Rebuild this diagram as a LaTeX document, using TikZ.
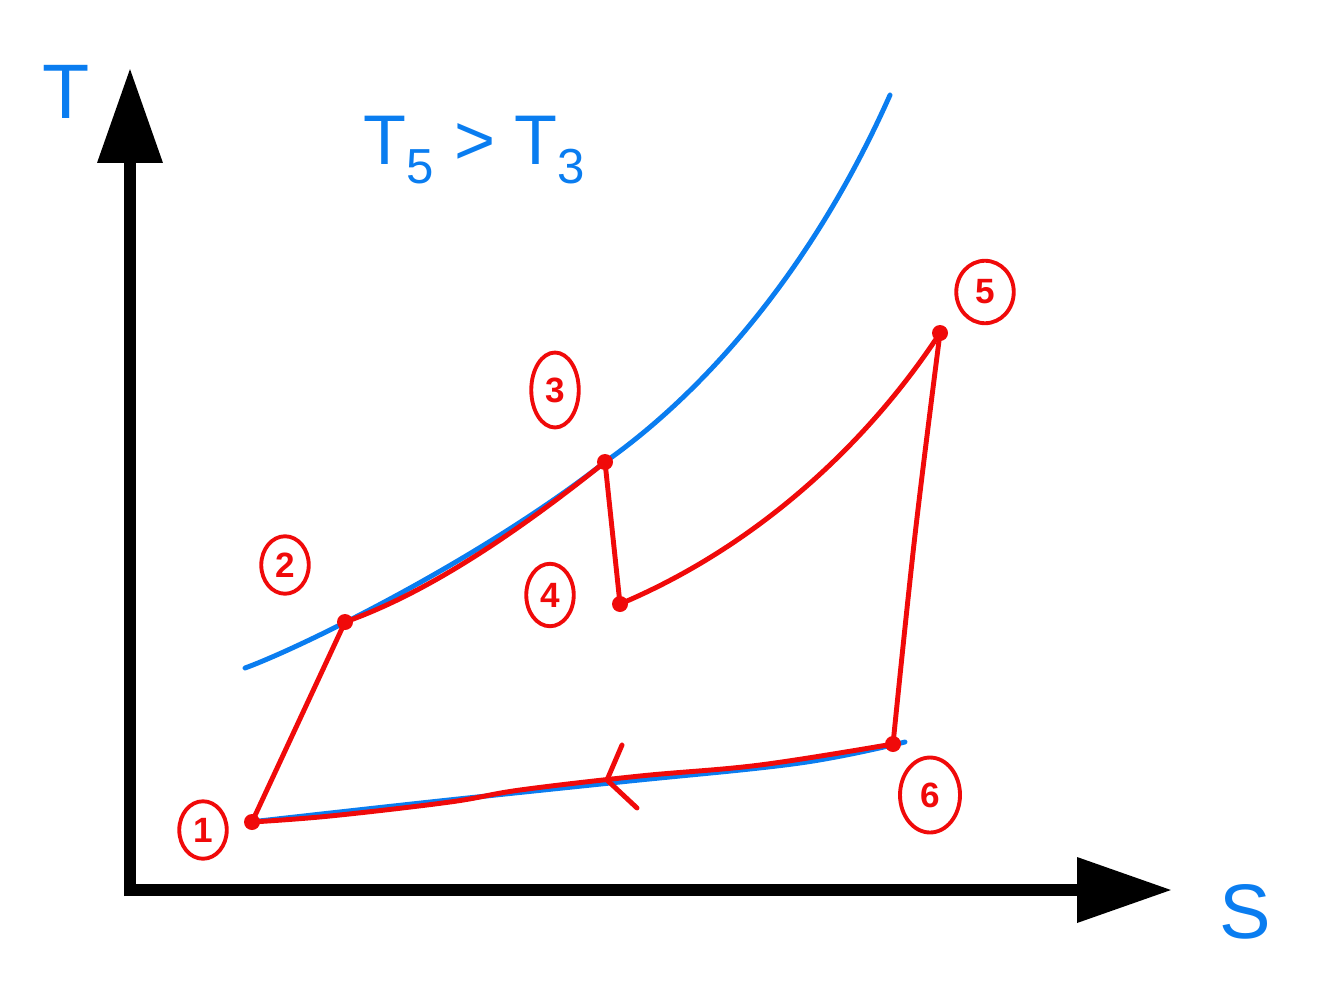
\documentclass[tikz,border=0pt]{standalone}
\usepackage{fontspec}
\setmainfont{Liberation Sans}
\usetikzlibrary{arrows.meta,shapes.geometric}
\definecolor{penblue}{RGB}{10,125,240}
\definecolor{penred}{RGB}{240,10,10}
\tikzset{
  axisline/.style={line width=0.24cm, -{Triangle[length=1.9cm,width=1.25cm]}},
  bluepen/.style={penblue, line width=2.8pt, line cap=round, line join=round},
  redpen/.style={penred, line width=2.8pt, line cap=round, line join=round},
  statelabel/.style={ellipse, draw=penred, line width=2.2pt, text=penred, inner sep=0pt,
    minimum width=0.95cm, minimum height=1.15cm, font=\fontsize{20}{20}\selectfont\bfseries},
  bluetext/.style={text=penblue, font=\fontsize{44}{44}\selectfont},
  dot/.style={circle, fill=penred, inner sep=0pt, minimum size=0.32cm},
}
\begin{document}
\begin{tikzpicture}[x=0.02cm, y=-0.02cm]
    \useasboundingbox (0,0) rectangle (1327,1000);

    % axes
    \coordinate (origin) at (130,890);
    \coordinate (ttip) at (130,68);
    \coordinate (stip) at (1172,890);
    \draw[axisline] (130,896) -- (ttip);
    \draw[axisline] (124,890) -- (stip);
    \node[bluetext] (tlabel) at (66,92) {T};
    \node[bluetext] (slabel) at (1245,912) {S};
    \node[bluetext, font=\fontsize{40}{40}\selectfont] (compare) at (475,150) {T\textsubscript{5} > T\textsubscript{3}};

    % cycle points
    \coordinate (p1) at (252,822);
    \coordinate (p2) at (345,622);
    \coordinate (p3) at (605,462);
    \coordinate (p4) at (620,604);
    \coordinate (p5) at (940,333);
    \coordinate (p6) at (893,744);

    % isobars
    \draw[bluepen] (245,668) .. controls (300,648) and (480,560) .. (p3)
        .. controls (700,395) and (810,275) .. (890,95);
    \draw[bluepen] plot[smooth, tension=0.6] coordinates {(250,822) (430,802) (620,782) (800,763) (905,742)};

    % cycle
    \draw[redpen] (p1) -- (p2);
    \draw[redpen] (p2) .. controls (430,592) and (520,530) .. (p3);
    \draw[redpen] (p3) -- (p4);
    \draw[redpen] (p4) .. controls (760,545) and (870,440) .. (p5);
    \draw[redpen] plot[smooth, tension=0.6] coordinates {(p5) (915,535) (p6)};
    \draw[redpen] plot[smooth, tension=0.6] coordinates {(p6) (760,765) (640,776) (520,790) (450,802) (330,816) (p1)};
    \coordinate (flow) at (607,780);
    \draw[redpen] (622,745) -- (flow) -- (637,808);

    \foreach \p in {p1,p2,p3,p4,p5,p6}
        \node[dot] at (\p) {};

    % state labels
    \node[statelabel] (s1) at (203,830) {1};
    \node[statelabel] (s2) at (285,565) {2};
    \node[statelabel, minimum height=1.5cm] (s3) at (555,390) {3};
    \node[statelabel, minimum height=1.25cm] (s4) at (550,595) {4};
    \node[statelabel, minimum width=1.15cm, minimum height=1.25cm] (s5) at (985,292) {5};
    \node[statelabel, minimum width=1.2cm, minimum height=1.5cm] (s6) at (930,795) {6};
\end{tikzpicture}
\end{document}
